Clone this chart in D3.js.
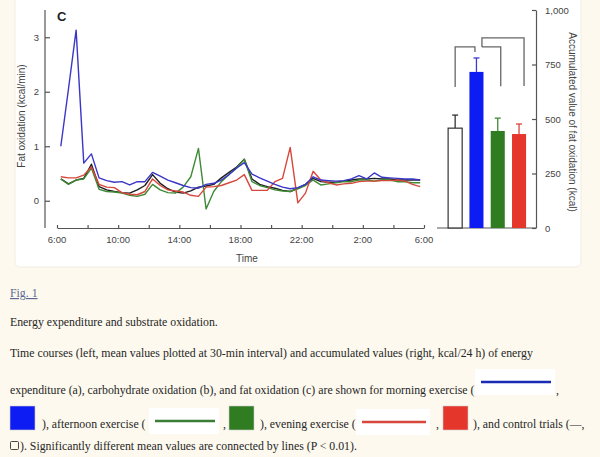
<!DOCTYPE html>
<html lang="en">
<head>
<meta charset="UTF-8" />
<title>Fat oxidation</title>
<style>
  body { margin: 0; background: #fdf9ee; }
  svg { display: block; }
</style>
</head>
<body>
<svg width="600" height="457" id="svg"></svg>
<script src="https://cdn.jsdelivr.net/npm/d3@7"></script>
<script>
// time course values (kcal/min), one per 30 min, starting 6:15
const morning = [1.00, 2.05, 3.13, 0.69, 0.86, 0.42, 0.37, 0.34, 0.35, 0.29, 0.35, 0.35,
  0.52, 0.45, 0.38, 0.33, 0.28, 0.24, 0.23, 0.30, 0.32, 0.38, 0.48, 0.60,
  0.70, 0.49, 0.42, 0.36, 0.30, 0.25, 0.22, 0.24, 0.30, 0.44, 0.38, 0.37,
  0.36, 0.37, 0.40, 0.46, 0.40, 0.51, 0.43, 0.42, 0.41, 0.40, 0.40, 0.38]
const afternoon = [0.40, 0.30, 0.38, 0.40, 0.60, 0.21, 0.17, 0.16, 0.14, 0.10, 0.08, 0.12,
  0.30, 0.20, 0.15, 0.14, 0.25, 0.44, 0.96, -0.15, 0.17, 0.35, 0.48, 0.60,
  0.76, 0.35, 0.28, 0.24, 0.20, 0.18, 0.17, 0.22, 0.28, 0.38, 0.29, 0.31,
  0.33, 0.35, 0.35, 0.38, 0.38, 0.36, 0.38, 0.38, 0.35, 0.35, 0.33, 0.33]
const evening = [0.44, 0.42, 0.42, 0.47, 0.62, 0.30, 0.25, 0.24, 0.15, 0.12, 0.11, 0.17,
  0.40, 0.28, 0.20, 0.18, 0.16, 0.10, 0.08, 0.25, 0.26, 0.28, 0.33, 0.38,
  0.48, 0.19, 0.19, 0.19, 0.35, 0.41, 0.98, -0.04, 0.14, 0.54, 0.38, 0.33,
  0.29, 0.31, 0.32, 0.35, 0.36, 0.36, 0.37, 0.37, 0.38, 0.36, 0.30, 0.26]
const control = [0.40, 0.31, 0.38, 0.41, 0.67, 0.26, 0.20, 0.17, 0.15, 0.14, 0.20, 0.28,
  0.48, 0.32, 0.22, 0.16, 0.14, 0.18, 0.25, 0.27, 0.30, 0.42, 0.52, 0.62,
  0.76, 0.40, 0.30, 0.26, 0.23, 0.19, 0.17, 0.23, 0.30, 0.41, 0.35, 0.34,
  0.34, 0.36, 0.38, 0.40, 0.40, 0.41, 0.40, 0.40, 0.38, 0.38, 0.38, 0.38]

// accumulated values (kcal/24 h)
const trials = ["Control", "Morning", "Afternoon", "Evening"]
const accumulated = [458, 716, 445, 431]
const accumulatedErr = [60, 64, 59, 46]
const sigPairs = [["Control", "Morning"], ["Morning", "Evening"], ["Morning", "Afternoon"]]

const yTicks = [0, 1, 2, 3]
const timeTicks = [6, 8, 10, 12, 14, 16, 18, 20, 22, 24, 26, 28, 30]
const timeLabels = { 6: "6:00", 10: "10:00", 14: "14:00", 18: "18:00", 22: "22:00", 26: "2:00", 30: "6:00" }
const barTicks = [0, 250, 500, 750, 1000]

const svg = d3.select("#svg")
const axisColor = "#555"
const sans = "'Liberation Sans', Arial, sans-serif"
const serif = "'Liberation Serif', 'Times New Roman', serif"

// white figure panel
svg.append("rect").attr("x", 15).attr("y", -6).attr("width", 566).attr("height", 273)
  .attr("rx", 5).attr("fill", "#fff").attr("stroke", "#f1ede2")

// ---------- left: time course ----------
const x = d3.scaleLinear().domain([6, 30]).range([57, 424])
const y = d3.scaleLinear().domain([-0.5, 3.5]).range([228, 10])

const yAxis = svg.append("g").attr("transform", "translate(45,0)")
  .call(d3.axisRight(y).tickValues(yTicks).tickSize(5).tickFormat(""))
yAxis.select(".domain").attr("d", `M0,${y(3.5)}V${y(-0.5)}`)
yAxis.selectAll("line,path").attr("stroke", axisColor).attr("stroke-width", 1.2)
svg.append("g").selectAll("text").data(yTicks).join("text")
  .attr("x", 39).attr("y", d => y(d) + 3.5).attr("text-anchor", "end")
  .attr("font-family", sans).attr("font-size", 9.5).attr("fill", "#444").text(d => d)

const xAxis = svg.append("g").attr("transform", "translate(0,228)")
  .call(d3.axisTop(x).tickValues(timeTicks).tickSize(3).tickFormat("").tickSizeOuter(0))
xAxis.selectAll("line,path").attr("stroke", axisColor).attr("stroke-width", 1.2)
svg.append("g").selectAll("text").data(Object.keys(timeLabels).map(Number)).join("text")
  .attr("x", d => x(d)).attr("y", 243).attr("text-anchor", "middle")
  .attr("font-family", sans).attr("font-size", 9.5).attr("fill", "#444").text(d => timeLabels[d])

svg.append("text").attr("x", 247).attr("y", 262).attr("text-anchor", "middle")
  .attr("font-family", sans).attr("font-size", 10).attr("fill", "#444").text("Time")
svg.append("text").attr("transform", "translate(25,116) rotate(-90)").attr("text-anchor", "middle")
  .attr("font-family", sans).attr("font-size", 10).attr("fill", "#444").text("Fat oxidation (kcal/min)")
svg.append("text").attr("x", 57).attr("y", 21).attr("font-family", sans).attr("font-weight", "bold")
  .attr("font-size", 13).attr("fill", "#222").text("C")

const series = [
  { name: "Control", values: control, color: "#1e1e1e" },
  { name: "Afternoon", values: afternoon, color: "#3f8a36" },
  { name: "Evening", values: evening, color: "#d8473c" },
  { name: "Morning", values: morning, color: "#3a36c8" }
]
const line = d3.line().x((d, i) => x(6.25 + i * 0.5)).y(d => y(d))
svg.append("g").selectAll("path").data(series).join("path")
  .attr("d", d => line(d.values)).attr("fill", "none")
  .attr("stroke", d => d.color).attr("stroke-width", 1.4).attr("stroke-linejoin", "round")

// ---------- right: accumulated bars ----------
const xb = d3.scaleBand().domain(trials).range([444.5, 529.7]).paddingInner(0.34).paddingOuter(0.17)
const yb = d3.scaleLinear().domain([0, 1000]).range([228, 10])
const barFill = { Control: "#fff", Morning: "#0d1cf2", Afternoon: "#2f7d20", Evening: "#e5362b" }
const errColor = { Control: "#333", Morning: "#3a3ad0", Afternoon: "#3f8a36", Evening: "#d8473c" }
const bars = trials.map((t, i) => ({ t, v: accumulated[i], e: accumulatedErr[i] }))

const rAxis = svg.append("g").attr("transform", "translate(536,0)")
  .call(d3.axisLeft(yb).tickValues(barTicks).tickSize(4).tickFormat("").tickSizeOuter(0))
rAxis.selectAll("line,path").attr("stroke", axisColor).attr("stroke-width", 1.2)
svg.append("line").attr("x1", 437).attr("x2", 536).attr("y1", yb(0)).attr("y2", yb(0))
  .attr("stroke", axisColor).attr("stroke-width", 1.2)
svg.append("g").selectAll("text").data(barTicks).join("text")
  .attr("x", 545).attr("y", d => yb(d) + 3.5)
  .attr("font-family", sans).attr("font-size", 9.5).attr("fill", "#444").text(d => d3.format(",")(d))
svg.append("text").attr("transform", "translate(569,122) rotate(90)").attr("text-anchor", "middle")
  .attr("font-family", sans).attr("font-size", 10).attr("fill", "#444")
  .text("Accumulated value of fat oxidation (kcal)")

const eb = svg.append("g")
eb.selectAll("line.v").data(bars).join("line").attr("class", "v")
  .attr("x1", d => xb(d.t) + xb.bandwidth() / 2).attr("x2", d => xb(d.t) + xb.bandwidth() / 2)
  .attr("y1", d => yb(d.v)).attr("y2", d => yb(d.v + d.e))
  .attr("stroke", d => errColor[d.t]).attr("stroke-width", 1.3)
eb.selectAll("line.c").data(bars).join("line").attr("class", "c")
  .attr("x1", d => xb(d.t) + xb.bandwidth() / 2 - 3).attr("x2", d => xb(d.t) + xb.bandwidth() / 2 + 3)
  .attr("y1", d => yb(d.v + d.e)).attr("y2", d => yb(d.v + d.e))
  .attr("stroke", d => errColor[d.t]).attr("stroke-width", 1.3)
svg.append("g").selectAll("rect").data(bars).join("rect")
  .attr("x", d => xb(d.t)).attr("width", xb.bandwidth())
  .attr("y", d => yb(d.v)).attr("height", d => yb(0) - yb(d.v))
  .attr("fill", d => barFill[d.t]).attr("stroke", d => d.t === "Control" ? "#333" : "none")
  .attr("stroke-width", 1.2)

// significance brackets
const cx = t => xb(t) + xb.bandwidth() / 2
const errTop = t => yb(accumulated[trials.indexOf(t)] + accumulatedErr[trials.indexOf(t)])
const bracketGeom = [
  p => ({ x1: cx(p[0]), x2: cx(p[1]) - 1.5, top: errTop(p[1]) - 11, b1: errTop(p[0]) - 28, b2: errTop(p[1]) - 6 }),
  p => ({ x1: cx(p[0]) + 5.5, x2: cx(p[1]) + 5, top: errTop(p[0]) - 20, b1: errTop(p[0]) - 11, b2: errTop(p[1]) - 38 }),
  p => ({ x1: cx(p[0]) + 5.5, x2: cx(p[1]) + 3, top: errTop(p[0]) - 11, b1: errTop(p[0]) - 11, b2: errTop(p[1]) - 32 })
]
svg.append("g").selectAll("path").data(sigPairs).join("path")
  .attr("d", (p, i) => {
    const g = bracketGeom[i](p)
    return `M${g.x1},${g.b1}V${g.top}H${g.x2}V${g.b2}`
  })
  .attr("fill", "none").attr("stroke", "#666").attr("stroke-width", 1.3)

// ---------- caption ----------
const cap = svg.append("g").attr("font-family", serif).attr("font-size", 11.8).attr("fill", "#262626")
cap.append("text").attr("x", 10).attr("y", 297).attr("fill", "#5a6a92")
  .attr("text-decoration", "underline").text("Fig. 1")
cap.append("text").attr("x", 10).attr("y", 326).text("Energy expenditure and substrate oxidation.")
cap.append("text").attr("x", 10).attr("y", 357)
  .text("Time courses (left, mean values plotted at 30-min interval) and accumulated values (right, kcal/24 h) of energy")
cap.append("text").attr("x", 10).attr("y", 394)
  .text("expenditure (a), carbohydrate oxidation (b), and fat oxidation (c) are shown for morning exercise (")
cap.append("text").attr("x", 556).attr("y", 394).text(",")

// inline legend swatches
function lineSwatch(x0, x1, yy, color) {
  svg.append("rect").attr("x", x0).attr("y", yy - 13).attr("width", x1 - x0).attr("height", 26).attr("fill", "#fff")
  svg.append("line").attr("x1", x0 + 6).attr("x2", x1 - 4).attr("y1", yy).attr("y2", yy)
    .attr("stroke", color).attr("stroke-width", 2.5)
}
function boxSwatch(x0, color) {
  svg.append("rect").attr("x", x0).attr("y", 406).attr("width", 25).attr("height", 24)
    .attr("fill", color).attr("stroke", "#ccc").attr("stroke-width", 0.6)
}
lineSwatch(475, 555, 382, "#1a2cb5")
boxSwatch(10, "#0d1cf2")
cap.append("text").attr("x", 42).attr("y", 428).text("), afternoon exercise (")
lineSwatch(149, 219, 421, "#3b7d34")
cap.append("text").attr("x", 223).attr("y", 428).text(",")
boxSwatch(229, "#2f7d20")
cap.append("text").attr("x", 260).attr("y", 428).text("), evening exercise (")
lineSwatch(356, 430, 422, "#d8473c")
cap.append("text").attr("x", 436).attr("y", 428).text(",")
boxSwatch(443, "#e5362b")
cap.append("text").attr("x", 473).attr("y", 428).text("), and control trials (\u2014,")
svg.append("rect").attr("x", 10.5).attr("y", 441.5).attr("width", 8).attr("height", 8)
  .attr("fill", "none").attr("stroke", "#333").attr("stroke-width", 0.9).attr("rx", 1)
cap.append("text").attr("x", 20).attr("y", 450)
  .text("). Significantly different mean values are connected by lines (P < 0.01).")
</script>
</body>
</html>
